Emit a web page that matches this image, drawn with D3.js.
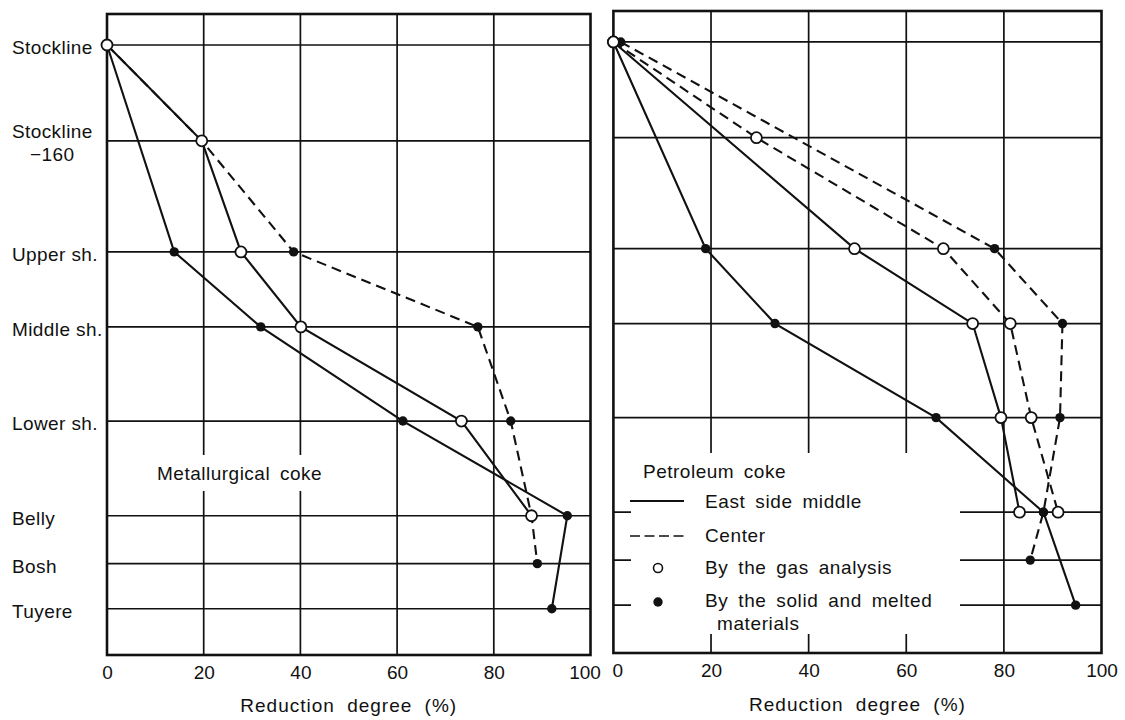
<!DOCTYPE html>
<html>
<head>
<meta charset="utf-8">
<script src="https://cdn.jsdelivr.net/npm/d3@7.9.0/dist/d3.min.js"></script>
<style>
  body { margin: 0; background: #fff; }
  svg text { font-family: "Liberation Sans", Arial, sans-serif; fill: #111; }
</style>
</head>
<body>
<svg id="chart" width="1125" height="720"></svg>
<script>
// furnace levels (top to bottom) and their relative depth
const levels = ['Stockline', 'Stockline|−160', 'Upper sh.', 'Middle sh.', 'Lower sh.', 'Belly', 'Bosh', 'Tuyere'];
const levelDepth = [0, 17, 36.7, 50, 66.7, 83.5, 92, 100];
const xTicks = [0, 20, 40, 60, 80, 100];

// Metallurgical coke
const metEastGasLevels = [0, 1, 2, 3, 4, 5];
const metEastGas = [0, 19.6, 27.7, 40.1, 73.3, 87.8];
const metEastSolidLevels = [0, 2, 3, 4, 5, 7];
const metEastSolid = [0, 13.9, 31.8, 61.2, 95.2, 92];
const metCenterSolidLevels = [0, 1, 2, 3, 4, 5, 6];
const metCenterSolid = [0, 19.6, 38.6, 76.7, 83.5, 87.8, 89];

// Petroleum coke
const petEastGasLevels = [0, 2, 3, 4, 5];
const petEastGas = [0, 49.4, 73.6, 79.4, 83.2];
const petEastSolidLevels = [0, 2, 3, 4, 5, 7];
const petEastSolid = [0, 18.9, 33.1, 66.1, 88.1, 94.7];
const petCenterGasLevels = [0, 1, 2, 3, 4, 5];
const petCenterGas = [0, 29.3, 67.6, 81.3, 85.6, 91.1];
const petCenterSolidLevels = [0, 2, 3, 4, 5, 6];
const petCenterSolid = [1.5, 78.1, 92, 91.5, 88.1, 85.4];

const legendItems = ['East side middle', 'Center', 'By the gas analysis', 'By the solid and melted'];

const zip = (lv, vals) => lv.map((l, i) => ({ level: l, value: vals[i] }));

const panels = [
  {
    x0: 107, x1: 590.5, y0: 14, y1: 655, yMax: 108.2,
    title: 'Metallurgical coke',
    series: [
      { pts: zip(metEastGasLevels, metEastGas), dashed: false, open: true },
      { pts: zip(metEastSolidLevels, metEastSolid), dashed: false, open: false },
      { pts: zip(metCenterSolidLevels, metCenterSolid), dashed: true, open: false }
    ],
    titleX: 157, titleY: 480,
    gap: { x: 150, y: 455, w: 182, h: 36 },
    axisY: 712
  },
  {
    x0: 613.4, x1: 1101.5, y0: 11, y1: 653, yMax: 108.5,
    title: 'Petroleum coke',
    series: [
      { pts: zip(petEastGasLevels, petEastGas), dashed: false, open: true },
      { pts: zip(petEastSolidLevels, petEastSolid), dashed: false, open: false },
      { pts: zip(petCenterGasLevels, petCenterGas), dashed: true, open: true },
      { pts: zip(petCenterSolidLevels, petCenterSolid), dashed: true, open: false }
    ],
    titleX: 643, titleY: 478,
    gap: { x: 631, y: 453, w: 329, h: 181 },
    axisY: 711
  }
];

const svg = d3.select('#chart');

panels.forEach((p, pi) => {
  const x = d3.scaleLinear().domain([0, 100]).range([p.x0, p.x1]);
  const y = d3.scaleLinear().domain([-5.5, p.yMax]).range([p.y0, p.y1]);
  const g = svg.append('g');

  // grid
  g.selectAll('.vgrid')
    .data(xTicks.slice(1, -1))
    .enter().append('line')
    .attr('x1', d => x(d)).attr('x2', d => x(d))
    .attr('y1', p.y0).attr('y2', p.y1)
    .attr('stroke', '#111').attr('stroke-width', 1.7);

  g.selectAll('.hgrid')
    .data(levelDepth)
    .enter().append('line')
    .attr('x1', p.x0).attr('x2', p.x1)
    .attr('y1', d => y(d)).attr('y2', d => y(d))
    .attr('stroke', '#111').attr('stroke-width', 1.7);

  // white gap behind labels
  g.append('rect')
    .attr('x', p.gap.x).attr('y', p.gap.y)
    .attr('width', p.gap.w).attr('height', p.gap.h)
    .attr('fill', '#fff');

  // frame
  g.append('rect')
    .attr('x', p.x0).attr('y', p.y0)
    .attr('width', p.x1 - p.x0).attr('height', p.y1 - p.y0)
    .attr('fill', 'none').attr('stroke', '#111').attr('stroke-width', 2.6);

  const line = d3.line()
    .x(d => x(d.value))
    .y(d => y(levelDepth[d.level]));

  p.series.forEach(s => {
    g.append('path')
      .attr('d', line(s.pts))
      .attr('fill', 'none')
      .attr('stroke', '#111')
      .attr('stroke-width', 2.1)
      .attr('stroke-dasharray', s.dashed ? '10,6' : null);
  });

  // filled markers first, open ones on top
  p.series.filter(s => !s.open).forEach(s => {
    g.selectAll(null)
      .data(s.pts)
      .enter().append('circle')
      .attr('cx', d => x(d.value))
      .attr('cy', d => y(levelDepth[d.level]))
      .attr('r', 4.7)
      .attr('fill', '#111');
  });
  p.series.filter(s => s.open).forEach(s => {
    g.selectAll(null)
      .data(s.pts)
      .enter().append('circle')
      .attr('cx', d => x(d.value))
      .attr('cy', d => y(levelDepth[d.level]))
      .attr('r', 5.5)
      .attr('fill', '#fff')
      .attr('stroke', '#111')
      .attr('stroke-width', 1.8);
  });

  // x axis
  const axis = g.append('g')
    .attr('transform', `translate(0,${p.y1})`)
    .call(d3.axisBottom(x).tickValues(xTicks).tickSize(0).tickPadding(11));
  axis.select('.domain').remove();
  axis.selectAll('text')
    .attr('font-size', 19)
    .attr('font-family', '"Liberation Sans", Arial, sans-serif')
    .attr('fill', '#111');
  if (pi === 0) axis.selectAll('text').filter(d => d === 100).attr('dx', -6);
  if (pi === 1) axis.selectAll('text').filter(d => d === 0).attr('dx', 4);

  g.append('text')
    .attr('x', (p.x0 + p.x1) / 2)
    .attr('y', p.axisY)
    .attr('text-anchor', 'middle')
    .attr('font-size', 19)
    .attr('letter-spacing', 1)
    .attr('word-spacing', 6)
    .text('Reduction degree (%)');

  g.append('text')
    .attr('x', p.titleX).attr('y', p.titleY)
    .attr('font-size', 19)
    .attr('letter-spacing', 0.5)
    .attr('word-spacing', 4)
    .text(p.title);

  // left level labels only on the first panel
  if (pi === 0) {
    const lab = svg.append('g');
    levels.forEach((l, i) => {
      const parts = l.split('|');
      const t = lab.append('text')
        .attr('x', 12)
        .attr('y', y(levelDepth[i]) + (parts.length > 1 ? -3 : 9))
        .attr('font-size', 19)
        .attr('letter-spacing', 0.4);
      t.append('tspan').text(parts[0]);
      if (parts.length > 1) {
        t.append('tspan').attr('x', 30).attr('dy', 23).text(parts[1]);
      }
    });
  } else {
    // legend
    const lg = svg.append('g');
    const lx0 = 630, lx1 = 684, tx = 705;
    const rows = [508, 542, 574, 607];
    lg.append('line').attr('x1', lx0).attr('x2', lx1).attr('y1', 501).attr('y2', 501)
      .attr('stroke', '#111').attr('stroke-width', 2.2);
    lg.append('line').attr('x1', lx0).attr('x2', lx1).attr('y1', 536).attr('y2', 536)
      .attr('stroke', '#111').attr('stroke-width', 1.7).attr('stroke-dasharray', '10,4.5');
    lg.append('circle').attr('cx', 658).attr('cy', 568).attr('r', 4.5)
      .attr('fill', '#fff').attr('stroke', '#111').attr('stroke-width', 1.6);
    lg.append('circle').attr('cx', 658).attr('cy', 602).attr('r', 4.7).attr('fill', '#111');
    legendItems.forEach((t, i) => {
      lg.append('text').attr('x', tx).attr('y', rows[i])
        .attr('font-size', 19).attr('letter-spacing', 0.6).attr('word-spacing', 4).text(t);
    });
    lg.append('text').attr('x', 717).attr('y', 630)
      .attr('font-size', 19).attr('letter-spacing', 0.6).text('materials');
  }
});
</script>
</body>
</html>
